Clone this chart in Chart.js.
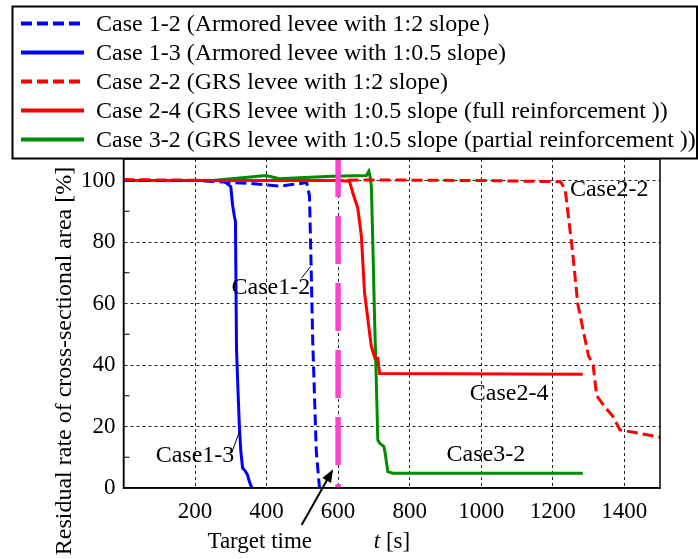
<!DOCTYPE html>
<html>
<head>
<meta charset="utf-8">
<title>Residual rate of cross-sectional area</title>
<script src="https://cdn.jsdelivr.net/npm/chart.js@4.4.0/dist/chart.umd.min.js"></script>
<style>
    html, body { margin: 0; padding: 0; background: #fff; }
    canvas { display: block; }
</style>
</head>
<body>
<canvas id="levee-chart" width="698" height="559"></canvas>
<script>
    "use strict";

    // Axis ticks
    var xTicks = [200, 400, 600, 800, 1000, 1200, 1400];
    var yTicks = [0, 20, 40, 60, 80, 100];
    var targetTime = 600;

    // Case 1-2 (blue dashed)
    var case12T = [0, 200, 280, 350, 438, 470, 500, 512, 520, 524, 529, 534, 539, 548];
    var case12R = [100, 100, 99.5, 99.1, 98.2, 98.7, 99.1, 99.4, 95, 75, 48, 30, 12, 0];

    // Case 1-3 (blue solid)
    var case13T = [0, 280, 287, 300, 305, 310, 313, 316, 320, 324, 328, 333, 340, 347, 352, 359];
    var case13R = [100, 100, 99.2, 98, 92, 88.4, 86.7, 45, 32, 20, 12, 6.5, 5.6, 4.2, 2, 0];

    // Case 2-2 (red dashed)
    var case22T = [0, 300, 600, 680, 1000, 1222, 1235, 1255, 1270, 1300, 1313, 1323, 1345, 1369, 1388, 1450, 1500];
    var case22R = [100.3, 100, 100, 100.2, 100, 99.6, 97, 77.5, 60, 43, 40, 30, 26.5, 23.2, 18.9, 17.6, 16.5];

    // Case 2-4 (red solid)
    var case24T = [0, 600, 632, 641, 655, 665, 674, 688, 693, 703, 711, 716, 1284];
    var case24R = [100, 100, 99.8, 96, 91, 82, 63.4, 50.4, 46, 42.2, 42.2, 37.2, 37];

    // Case 3-2 (green solid)
    var case32T = [0, 250, 324, 399, 436, 492, 585, 679, 686, 690, 693, 697, 702, 707, 711, 716, 728, 732, 739, 753, 1284];
    var case32R = [100, 100, 100.8, 101.6, 100.6, 100.9, 101.4, 101.6, 103, 101, 98, 80, 55, 34, 15.6, 14.6, 13.5, 11, 5.3, 4.8, 4.8];

    var serif = '"Liberation Serif", "Times New Roman", serif';

    function toPoints(ts, rs) {
        return ts.map(function (t, i) { return { x: t, y: rs[i] }; });
    }

    function series(label, ts, rs, color, dash) {
        return {
            label: label,
            data: toPoints(ts, rs),
            borderColor: color,
            backgroundColor: color,
            borderWidth: 3,
            borderDash: dash,
            pointRadius: 0,
            tension: 0,
            showLine: true,
            fill: false
        };
    }

    var legendSeries = [
        series("Case 1-2 (Armored levee with 1:2 slope\uFF09", case12T, case12R, "#0000ff", [11, 5]),
        series("Case 1-3 (Armored levee with 1:0.5 slope)", case13T, case13R, "#0000ff", []),
        series("Case 2-2 (GRS levee with 1:2 slope)", case22T, case22R, "#ff0000", [11, 5]),
        series("Case 2-4 (GRS levee with 1:0.5 slope (full reinforcement ))", case24T, case24R, "#ff0000", []),
        series("Case 3-2 (GRS levee with 1:0.5 slope (partial reinforcement ))", case32T, case32R, "#008c00", [])
    ];

    var targetLine = {
        label: "Target time",
        data: [{ x: targetTime, y: 107 }, { x: targetTime, y: 0 }],
        borderColor: "#ff44cc",
        borderWidth: 5.5,
        borderDash: [48, 19],
        borderDashOffset: 10,
        pointRadius: 0,
        showLine: true,
        fill: false
    };

    // drawing order: first dataset ends up on top
    var datasets = [targetLine, legendSeries[2], legendSeries[0], legendSeries[3], legendSeries[1], legendSeries[4]];

    // text labels placed in data units
    var notes = [
        { text: "Case1-2", t: 412, r: 65, from: [498, 68.3], to: [523, 72] },
        { text: "Case1-3", t: 200, r: 10.4, from: [302, 11.3], to: [326, 19] },
        { text: "Case2-4", t: 1078, r: 30.8 },
        { text: "Case3-2", t: 1013, r: 10.7 },
        { text: "Case2-2", t: 1358, r: 97.1 }
    ];

    var leveeDecor = {
        id: "leveeDecor",
        afterDraw: function (chart) {
            var ctx = chart.ctx;
            var xs = chart.scales.x, ys = chart.scales.y;
            var a = chart.chartArea;
            ctx.save();

            // plot frame
            ctx.strokeStyle = "#000";
            ctx.lineWidth = 1.5;
            ctx.setLineDash([]);
            ctx.strokeRect(a.left, a.top, a.right - a.left, a.bottom - a.top);

            // minor ticks on the y axis
            ctx.lineWidth = 1;
            for (var v = 10; v < 107; v += 20) {
                var py = ys.getPixelForValue(v);
                ctx.beginPath();
                ctx.moveTo(a.left, py);
                ctx.lineTo(a.left + 6, py);
                ctx.stroke();
            }

            // legend box
            ctx.fillStyle = "#fff";
            ctx.fillRect(12.5, 6.5, 684.5, 152);
            ctx.lineWidth = 2;
            ctx.strokeRect(12.5, 6.5, 684.5, 152);
            ctx.font = "24px " + serif;
            ctx.textBaseline = "middle";
            ctx.textAlign = "left";
            legendSeries.forEach(function (ds, i) {
                var y = 23.5 + i * 29;
                ctx.strokeStyle = ds.borderColor;
                ctx.lineWidth = 4;
                ctx.setLineDash(ds.borderDash);
                ctx.beginPath();
                ctx.moveTo(21, y);
                ctx.lineTo(84, y);
                ctx.stroke();
                ctx.setLineDash([]);
                ctx.fillStyle = "#000";
                ctx.fillText(ds.label, 96, y + 1);
            });

            // curve labels
            ctx.font = "24px " + serif;
            ctx.textAlign = "center";
            ctx.fillStyle = "#000";
            ctx.strokeStyle = "#000";
            ctx.lineWidth = 1;
            notes.forEach(function (n) {
                ctx.fillText(n.text, xs.getPixelForValue(n.t), ys.getPixelForValue(n.r));
                if (n.from) {
                    ctx.beginPath();
                    ctx.moveTo(xs.getPixelForValue(n.from[0]), ys.getPixelForValue(n.from[1]));
                    ctx.lineTo(xs.getPixelForValue(n.to[0]), ys.getPixelForValue(n.to[1]));
                    ctx.stroke();
                }
            });

            // target time arrow
            var x0 = xs.getPixelForValue(498), y0 = ys.getPixelForValue(-12);
            var x1 = xs.getPixelForValue(586), y1 = ys.getPixelForValue(6.1);
            var ang = Math.atan2(y1 - y0, x1 - x0);
            ctx.lineWidth = 2;
            ctx.beginPath();
            ctx.moveTo(x0, y0);
            ctx.lineTo(x1 - 8 * Math.cos(ang), y1 - 8 * Math.sin(ang));
            ctx.stroke();
            ctx.beginPath();
            ctx.moveTo(x1, y1);
            ctx.lineTo(x1 - 13 * Math.cos(ang) + 5 * Math.sin(ang), y1 - 13 * Math.sin(ang) - 5 * Math.cos(ang));
            ctx.lineTo(x1 - 13 * Math.cos(ang) - 5 * Math.sin(ang), y1 - 13 * Math.sin(ang) + 5 * Math.cos(ang));
            ctx.closePath();
            ctx.fill();
            ctx.font = "23px " + serif;
            ctx.fillText("Target time", xs.getPixelForValue(381), ys.getPixelForValue(-17.5));

            // x axis title: t [s]
            var tFont = "italic 23px " + serif, sFont = "23px " + serif;
            ctx.font = tFont;
            var wT = ctx.measureText("t").width;
            ctx.font = sFont;
            var wS = ctx.measureText(" [s]").width;
            var left = 392 - (wT + wS) / 2;
            ctx.textAlign = "left";
            ctx.font = tFont;
            ctx.fillText("t", left, 542);
            ctx.font = sFont;
            ctx.fillText(" [s]", left + wT, 542);

            // y axis title
            ctx.translate(65, 361);
            ctx.rotate(-Math.PI / 2);
            ctx.textAlign = "center";
            ctx.font = "24px " + serif;
            ctx.fillText("Residual rate of cross-sectional area [%]", 0, 0);

            ctx.restore();
        }
    };

    var ctx = document.getElementById("levee-chart").getContext("2d");
    var leveeChart = new Chart(ctx, {
        type: "scatter",
        data: { datasets: datasets },
        options: {
            responsive: false,
            animation: false,
            layout: { padding: { top: 159, right: 38, left: 0, bottom: 0 } },
            plugins: {
                legend: { display: false },
                tooltip: { enabled: false }
            },
            scales: {
                x: {
                    type: "linear",
                    min: 0,
                    max: 1500,
                    afterBuildTicks: function (scale) {
                        scale.ticks = xTicks.map(function (v) { return { value: v }; });
                    },
                    afterFit: function (scale) { scale.height = 71; },
                    ticks: {
                        color: "#000",
                        padding: 10,
                        maxRotation: 0,
                        autoSkip: false,
                        font: { family: serif, size: 23 },
                        callback: function (value) { return String(value); }
                    },
                    grid: { color: "#222", lineWidth: 1, drawTicks: false },
                    border: { display: true, color: "#000", width: 1.5, dash: [3, 3] }
                },
                y: {
                    type: "linear",
                    min: 0,
                    max: 107,
                    afterBuildTicks: function (scale) {
                        scale.ticks = yTicks.map(function (v) { return { value: v }; });
                    },
                    afterFit: function (scale) { scale.width = 123.5; },
                    ticks: {
                        color: "#000",
                        padding: 8,
                        autoSkip: false,
                        font: { family: serif, size: 23 },
                        callback: function (value) { return String(value); }
                    },
                    grid: {
                        color: function (c) { return c.tick && c.tick.value === 0 ? "rgba(0,0,0,0)" : "#222"; },
                        lineWidth: 1,
                        drawTicks: false
                    },
                    border: { display: true, color: "#000", width: 1.5, dash: [3, 3] }
                }
            }
        },
        plugins: [leveeDecor]
    });
</script>
</body>
</html>
